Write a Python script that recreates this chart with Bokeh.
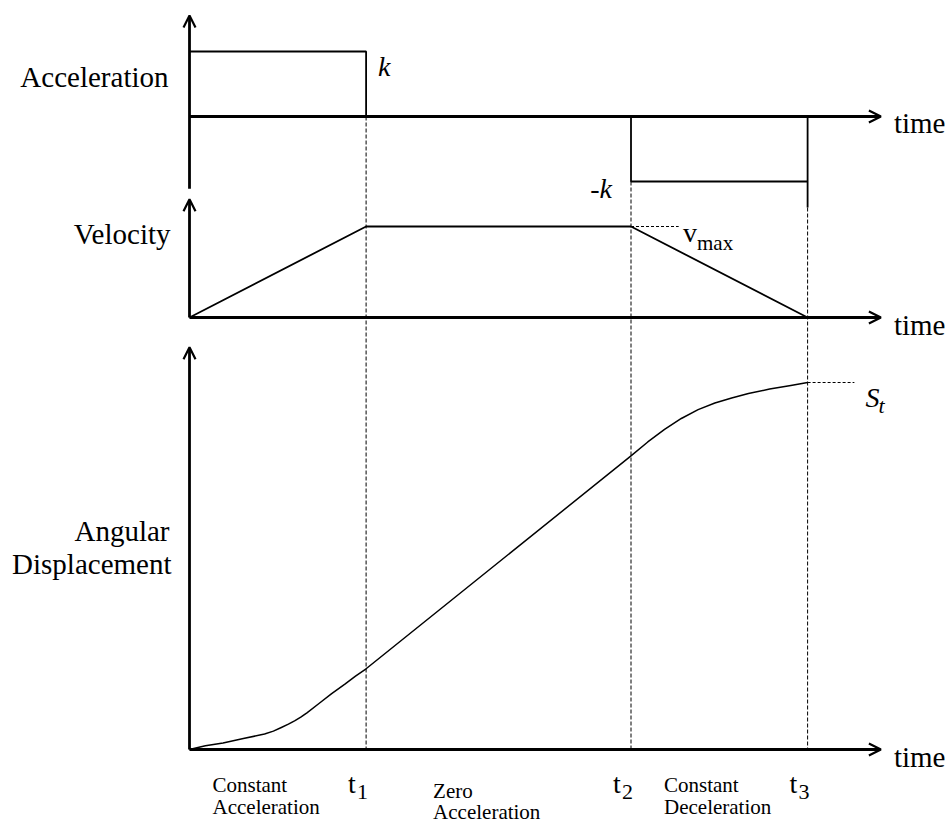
from bokeh.plotting import figure
from bokeh.models import Range1d, Arrow, OpenHead, Label
from bokeh.embed import file_html
from bokeh.resources import INLINE

# ---------------- data ----------------
t1, t2, t3 = 2.0, 5.0, 7.0
K = 1.0
V_MAX = 1.0

acc_time = [0.0, t1, t1, t2, t2, t3]
acc_value = [K, K, 0.0, 0.0, -K, -K]

vel_time = [0.0, t1, t2, t3]
vel_value = [0.0, V_MAX, V_MAX, 0.0]

disp_time = [0.0, 0.18, 0.38, 0.61, 0.85, 0.95, 1.04, 1.12, 1.19, 1.26, 1.33, 1.47, 1.61,
             1.76, 1.88, 2.0,
             5.0, 5.19, 5.38, 5.57, 5.76, 5.95, 6.14, 6.33, 6.57, 6.81, 7.0]
disp_value = [0.0, 0.05, 0.09, 0.15, 0.21, 0.25, 0.30, 0.345, 0.39, 0.44, 0.50, 0.63, 0.76,
              0.89, 1.00, 1.10,
              4.00, 4.19, 4.36, 4.51, 4.63, 4.72, 4.79, 4.85, 4.91, 4.96, 5.0]
S_T = 5.0

# ---------------- layout (pixels) ----------------
W, H = 945, 825
TOP, BOTTOM = 0, H
X0_PX, PX_PER_T = 189.0, 88.3
ACC_BASE, ACC_PX = 116.0, 65.0
VEL_BASE, VEL_PX = 317.0, 91.0
DISP_BASE, DISP_PX = 749.0, 367.0 / S_T
AXIS_END_T = 7.83
FONT = "Liberation Serif"


def prange(base, px):
    return Range1d(start=(base - BOTTOM) / px, end=(base - TOP) / px)


p = figure(width=W, height=H, output_backend="svg", toolbar_location=None,
           x_range=Range1d((0 - X0_PX) / PX_PER_T, (W - X0_PX) / PX_PER_T),
           y_range=Range1d(BOTTOM, TOP),
           x_axis_type=None, y_axis_type=None, min_border=0)
p.grid.visible = False
p.outline_line_color = None
p.background_fill_color = "white"
p.border_fill_color = "white"
p.extra_y_ranges = {"acc": prange(ACC_BASE, ACC_PX),
                    "vel": prange(VEL_BASE, VEL_PX),
                    "disp": prange(DISP_BASE, DISP_PX)}


def arrow(x0, y0, x1, y1, rng):
    p.add_layout(Arrow(end=OpenHead(size=12, line_width=2.2, line_color="black"),
                       x_start=x0, y_start=y0, x_end=x1, y_end=y1,
                       line_width=2.8, line_color="black", y_range_name=rng))


# axes
arrow(0, -1.11, 0, 1.555, "acc")
arrow(0, 0, AXIS_END_T, 0, "acc")
arrow(0, 0, 0, 1.30, "vel")
arrow(0, 0, AXIS_END_T, 0, "vel")
arrow(0, 0, 0, 5.48, "disp")
arrow(0, 0, AXIS_END_T, 0, "disp")


def acc_page(v):
    return ACC_BASE - v * ACC_PX


# dashed guides
p.segment(x0=[t1, t2, t3], y0=[acc_page(0), acc_page(-K), acc_page(-1.4 * K)],
          x1=[t1, t2, t3], y1=[DISP_BASE] * 3,
          line_color="black", line_width=1, line_dash="4 2")
p.segment(x0=[t2], y0=[V_MAX], x1=[5.54], y1=[V_MAX], y_range_name="vel",
          line_color="black", line_width=1, line_dash="3 2")
p.segment(x0=[t3], y0=[S_T], x1=[7.53], y1=[S_T], y_range_name="disp",
          line_color="black", line_width=1, line_dash="3 2")

# signals
p.line(acc_time, acc_value, y_range_name="acc", line_color="black", line_width=1.8)
p.segment(x0=[t3], y0=[0], x1=[t3], y1=[-1.4 * K], y_range_name="acc",
          line_color="black", line_width=1.8)
p.line(vel_time, vel_value, y_range_name="vel", line_color="black", line_width=1.8)
p.line(disp_time, disp_value, y_range_name="disp", line_color="black", line_width=1.5,
       line_join="round")


def label(text, x, y, xoff=0, size=29, align="left", style="normal"):
    p.add_layout(Label(text=text, x=x, y=y, x_offset=xoff, text_font=FONT,
                       text_font_size=f"{size}px", text_align=align,
                       text_baseline="alphabetic", text_font_style=style,
                       text_color="black"))


label("Acceleration", 0, 76, -21, align="right")
label("Velocity", 0, 233, -19, align="right")
label("Angular", 0, 530, -20, align="right")
label("Displacement", 0, 563, -18, align="right")

label("k", t1, 66, 12, size=28, style="italic")
label("-k", t2, 188, -19, size=28, align="right", style="italic")
label("v", t2, 232, 52, size=28)
label("max", t2, 242, 66, size=21)
label("S", t3, 397, 58, size=28, style="italic")
label("t", t3, 405, 71, size=22, style="italic")

for y in (122, 324, 756):
    label("time", AXIS_END_T, y, 13)

for tv, sub in ((t1, "1"), (t2, "2"), (t3, "3")):
    label("t", tv, 783, -18, size=28)
    label(sub, tv, 791, -9, size=22)

label("Constant", 0, 784, 23, size=21)
label("Acceleration", 0, 806, 23, size=21)
label("Zero", t1, 790, 67, size=21)
label("Acceleration", t1, 811, 67, size=21)
label("Constant", t2, 784, 33, size=21)
label("Deceleration", t2, 806, 33, size=21)

open("out.html", "w").write(file_html(p, INLINE))
